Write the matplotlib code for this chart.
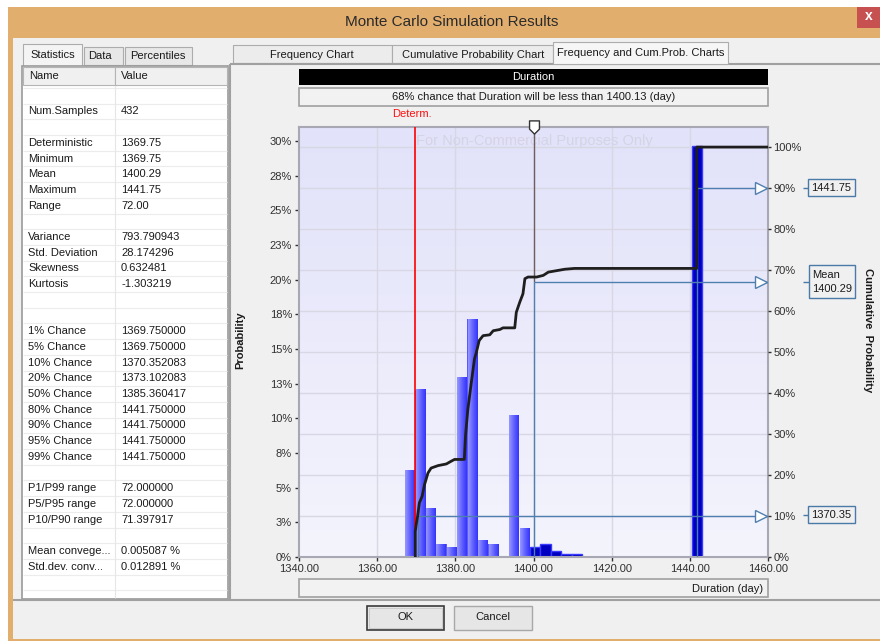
import matplotlib
matplotlib.use("Agg")
import matplotlib.pyplot as plt
import matplotlib.patches as mpatches
from matplotlib.path import Path
from matplotlib.colors import LinearSegmentedColormap
from matplotlib.transforms import blended_transform_factory
import numpy as np

plt.rcParams['font.family'] = ['Liberation Sans', 'DejaVu Sans']

# ---------------- data ----------------
bin_left = [1367.08, 1369.75, 1372.42, 1375.08, 1377.75, 1380.42, 1383.08, 1385.75, 1388.42,
            1393.75, 1396.42, 1399.08, 1401.75, 1404.42, 1407.08, 1409.75, 1440.50]
bin_pct = [6.25, 12.04, 3.47, 0.93, 0.69, 12.96, 17.13, 1.16, 0.93,
           10.19, 2.08, 0.69, 0.93, 0.46, 0.23, 0.23, 29.63]
bin_width = 2.667

cum_days = [1369.75, 1369.75, 1370.0, 1370.35, 1370.8, 1371.5, 1372.1, 1373.0, 1373.8, 1375.6,
            1377.7, 1379.0, 1379.8, 1382.3, 1382.6, 1383.2, 1384.1, 1384.9, 1385.4, 1386.1,
            1387.1, 1388.8, 1389.7, 1391.4, 1392.2, 1395.2, 1395.6, 1396.5, 1397.3, 1397.8,
            1398.6, 1400.8, 1402.5, 1403.8, 1405.0, 1408.0, 1410.5, 1441.75, 1441.75, 1460.0]
cum_pct = [0, 6.2, 8.0, 10.0, 13.2, 14.8, 17.6, 20.5, 21.7, 22.3,
           22.7, 23.4, 23.8, 23.8, 29.5, 36.0, 42.6, 48.3, 50.0, 52.8,
           54.0, 54.2, 55.2, 55.5, 55.9, 55.9, 59.7, 62.2, 64.2, 67.9,
           68.3, 68.3, 68.7, 69.5, 69.7, 70.2, 70.4, 70.4, 100.0, 100.0]

x_ticks = [1340, 1360, 1380, 1400, 1420, 1440, 1460]
x_ticklabels = ['1340.00', '1360.00', '1380.00', '1400.00', '1420.00', '1440.00', '1460.00']
prob_ticks = [0, 2.5, 5, 7.5, 10, 12.5, 15, 17.5, 20, 22.5, 25, 27.5, 30]
prob_ticklabels = ['0%', '3%', '5%', '8%', '10%', '13%', '15%', '18%', '20%', '23%', '25%', '28%', '30%']
cum_ticks = [0, 10, 20, 30, 40, 50, 60, 70, 80, 90, 100]
cum_ticklabels = ['0%', '10%', '20%', '30%', '40%', '50%', '60%', '70%', '80%', '90%', '100%']

determ = 1369.75
threshold = 1400.13
mean_val = 1400.29
mean_cum = 67.0
p10_val, p10_cum = 1370.35, 10
p90_val, p90_cum = 1441.75, 90

stat_names = ['', 'Num.Samples', '', 'Deterministic', 'Minimum', 'Mean', 'Maximum', 'Range', '',
              'Variance', 'Std. Deviation', 'Skewness', 'Kurtosis', '', '',
              '1% Chance', '5% Chance', '10% Chance', '20% Chance', '50% Chance', '80% Chance',
              '90% Chance', '95% Chance', '99% Chance', '',
              'P1/P99 range', 'P5/P95 range', 'P10/P90 range', '',
              'Mean convege...', 'Std.dev. conv...']
stat_values = ['', '432', '', '1369.75', '1369.75', '1400.29', '1441.75', '72.00', '',
               '793.790943', '28.174296', '0.632481', '-1.303219', '', '',
               '1369.750000', '1369.750000', '1370.352083', '1373.102083', '1385.360417', '1441.750000',
               '1441.750000', '1441.750000', '1441.750000', '',
               '72.000000', '72.000000', '71.397917', '',
               '0.005087 %', '0.012891 %']

# ---------------- figure / dialog ----------------
W, H = 880, 641
fig = plt.figure(figsize=(W / 100, H / 100), dpi=100)
fig.patch.set_facecolor('white')
bg = fig.add_axes([0, 0, 1, 1])
bg.set_xlim(0, W)
bg.set_ylim(H, 0)
bg.axis('off')

TXT = '#1a1a1a'


def rect(x0, y0, x1, y1, fc='none', ec='none', lw=1.0, z=1):
    bg.add_patch(mpatches.Rectangle((x0, y0), x1 - x0, y1 - y0, facecolor=fc,
                                    edgecolor=ec, linewidth=lw, zorder=z))


def txt(x, y, s, size=8, color=TXT, ha='left', va='center', z=3, **kw):
    bg.text(x, y, s, fontsize=size, color=color, ha=ha, va=va, zorder=z, **kw)


def hline(y, x0, x1, color, lw=1.0, z=2):
    bg.plot([x0, x1], [y, y], color=color, lw=lw, zorder=z, solid_capstyle='butt')


def vline(x, y0, y1, color, lw=1.0, z=2):
    bg.plot([x, x], [y0, y1], color=color, lw=lw, zorder=z, solid_capstyle='butt')


# window frame
rect(8, 7, 880, 641, fc='#e2ae6e')
rect(13, 38, 880, 639, fc='#f0f0f0')
rect(857, 7, 880, 28, fc='#c75050', z=2)
txt(868.5, 16.5, 'x', size=10, color='white', ha='center', fontweight='bold')
txt(452, 22, 'Monte Carlo Simulation Results', size=11, color='#2a2a2a', ha='center')

# left tabs
rect(84, 47, 123, 65, fc='#e8e8e8', ec='#acacac', lw=0.8)
rect(125, 47, 192, 65, fc='#e8e8e8', ec='#acacac', lw=0.8)
rect(23, 44, 82, 66, fc='#f4f4f4', ec='#acacac', lw=0.8)
txt(52.5, 54.5, 'Statistics', ha='center')
txt(100, 56, 'Data', ha='center')
txt(158, 56, 'Percentiles', ha='center')

# statistics table
rect(22, 66, 228, 599, fc='white', ec='#9a9a9a', lw=1.2)
rect(23, 67, 115, 85, fc='#f0f0f0', ec='#b4b4b4', lw=0.8, z=2)
rect(115, 67, 227, 85, fc='#f0f0f0', ec='#b4b4b4', lw=0.8, z=2)
txt(29, 76, 'Name')
txt(121, 76, 'Value')
for k in range(33):
    yb = 87.9 + 15.7 * k
    if yb < 598:
        hline(yb, 23, 227, '#ececec', lw=0.8, z=1.5)
vline(115, 85, 598, '#e6e6e6', lw=0.8, z=1.5)
for k, (nm, vl) in enumerate(zip(stat_names, stat_values)):
    yc = 95.7 + 15.7 * k
    if nm:
        txt(28, yc, nm)
    if vl:
        txt(121, yc, vl)

# chart panel + right tabs
rect(233, 45, 392, 63, fc='#ececec', ec='#acacac', lw=0.8)
rect(392, 45, 553, 63, fc='#ececec', ec='#acacac', lw=0.8)
hline(64, 230, 880, '#a0a0a0', lw=1.5)
vline(230, 64, 599, '#a0a0a0', lw=1.5)
rect(553, 42, 728, 64, fc='#f6f6f6', ec='#acacac', lw=0.8, z=3)
txt(312, 54.5, 'Frequency Chart', ha='center')
txt(473, 54.5, 'Cumulative Probability Chart', ha='center')
txt(640.5, 52.5, 'Frequency and Cum.Prob. Charts', ha='center', z=4)

# bottom separator & buttons
hline(599.5, 13, 880, '#a0a0a0', lw=1.5)
rect(367, 606, 444, 630, fc='#e6e6e6', ec='#3a3a3a', lw=1.2)
rect(369, 608, 442, 628, fc='none', ec='#c8c8c8', lw=0.6)
rect(454, 606, 532, 630, fc='#e6e6e6', ec='#a8a8a8', lw=1.0)
txt(405.5, 617.5, 'OK', ha='center')
txt(493, 617.5, 'Cancel', ha='center')

# chart header boxes
rect(299, 69, 768, 85, fc='black')
txt(533.5, 77, 'Duration', color='white', ha='center')
rect(299, 88, 768, 106, fc='#f2f2f2', ec='#a0a0a0', lw=1.2)
txt(533.5, 97.5, '68% chance that Duration will be less than 1400.13 (day)', ha='center')
rect(299, 579, 768, 597, fc='#f2f2f2', ec='#a0a0a0', lw=1.2)
txt(763, 588.5, 'Duration (day)', ha='right')
txt(412, 114, 'Determ.', color='#ff1010', ha='center')

# axis titles
txt(240, 340, 'Probability', ha='center', rotation=90, fontweight='bold')
txt(868, 330, 'Cumulative  Probability', ha='center', rotation=270, fontweight='bold')

# right-side percentile boxes
BOXC = '#4a7aa8'
rect(808, 179, 855, 196, fc='none', ec=BOXC, lw=1.0)
hline(187.5, 803, 808, BOXC)
txt(811, 188, '1441.75')
rect(809, 265, 855, 298, fc='none', ec=BOXC, lw=1.0)
hline(282, 803, 809, BOXC)
txt(812, 274.5, 'Mean')
txt(812, 289, '1400.29')
rect(808, 506, 855, 523, fc='none', ec=BOXC, lw=1.0)
hline(514.5, 803, 808, BOXC)
txt(811, 515, '1370.35')

# ---------------- chart ----------------
ax = fig.add_axes([299 / W, (H - 557) / H, 469 / W, 430 / H])
ax.patch.set_facecolor('none')
bg_cmap = LinearSegmentedColormap.from_list('bgc', ['#f4f4fd', '#e2e2fa'])
ax.imshow(np.linspace(0, 1, 100).reshape(-1, 1), cmap=bg_cmap, extent=[0, 1, 0, 1],
          transform=ax.transAxes, aspect='auto', origin='lower', zorder=0)

ax2 = ax.twinx()
ax.set_xlim(1340, 1460)
ax.set_ylim(0, 31.0)
ax2.set_ylim(0, 104.9)

grid_c = '#d8d8e4'
for xt in x_ticks[1:-1]:
    ax.axvline(xt, color=grid_c, lw=1.0, zorder=1)
gtrans = blended_transform_factory(ax.transAxes, ax2.transData)
ax.hlines(cum_ticks[1:], 0, 1, transform=gtrans, color=grid_c, lw=1.0, zorder=1)

# histogram bars
light_cmap = LinearSegmentedColormap.from_list('lb', ['#9898ff', '#6262ff', '#3434fa'])
grad = np.linspace(0, 1, 64).reshape(1, -1)
for x0, h in zip(bin_left, bin_pct):
    if x0 >= threshold - 1.5:
        ax.bar(x0, h, width=bin_width, align='edge', color='#0000c0',
               edgecolor='#3a3aff', linewidth=1.0, zorder=2)
    else:
        ax.bar(x0, h, width=bin_width, align='edge', color='#5a5aff',
               edgecolor='none', zorder=2)
        ax.imshow(grad, cmap=light_cmap, extent=[x0 + 0.1, x0 + bin_width - 0.1, 0, h],
                  aspect='auto', zorder=2.1, interpolation='bilinear')
ax.set_xlim(1340, 1460)
ax.set_ylim(0, 31.0)

ax.axvline(determ, color='#ff0000', lw=1.2, zorder=3)
ax.text(0.501, 0.967, 'For Non-Commercial Purposes Only', transform=ax.transAxes,
        fontsize=10.5, color='#d4d4e4', ha='center', va='center', zorder=1)

# cumulative curve & markers
LINEC = '#4f7fae'
ax2.vlines(threshold, mean_cum, 104.9, color='#6e5e5e', lw=1.0, zorder=2)
ax2.vlines(threshold, 0, mean_cum, color=LINEC, lw=1.0, zorder=2)
ax2.hlines(mean_cum, threshold, 1460, color=LINEC, lw=1.0, zorder=2)
ax2.vlines(p10_val, 0, p10_cum, color=LINEC, lw=1.0, zorder=2)
ax2.hlines(p10_cum, p10_val, 1460, color=LINEC, lw=1.0, zorder=2)
ax2.vlines(p90_val, 0, p90_cum, color=LINEC, lw=1.0, zorder=2)
ax2.hlines(p90_cum, p90_val, 1460, color=LINEC, lw=1.0, zorder=2)
ax2.plot(cum_days, cum_pct, color='#1e1e1e', lw=2.0, zorder=4, solid_joinstyle='round')

atrans = blended_transform_factory(ax2.transAxes, ax2.transData)
ax2.plot([0.986] * 3, [p90_cum, mean_cum, p10_cum], linestyle='none', marker='>',
         markersize=8, markerfacecolor='white', markeredgecolor=LINEC, markeredgewidth=1.0,
         transform=atrans, zorder=5, clip_on=False)

shield = Path([(-0.75, 1), (0.75, 1), (0.75, -0.25), (0, -1), (-0.75, -0.25), (-0.75, 1)],
              [Path.MOVETO, Path.LINETO, Path.LINETO, Path.LINETO, Path.LINETO, Path.CLOSEPOLY])
ax2.plot([threshold], [105.0], marker=shield, markersize=9.5, markerfacecolor='white',
         markeredgecolor='#333333', markeredgewidth=1.0, clip_on=False, zorder=6)
ax2.set_ylim(0, 104.9)

# ticks
TC = '#303030'
ax.set_xticks(x_ticks)
ax.set_xticklabels(x_ticklabels)
ax.set_yticks(prob_ticks)
ax.set_yticklabels(prob_ticklabels)
ax.tick_params(axis='both', labelsize=8, colors=TC, length=3, width=1, pad=2)
ax2.set_yticks(cum_ticks)
ax2.set_yticklabels(cum_ticklabels)
ax2.tick_params(axis='y', labelsize=8, colors=TC, length=2, width=1, pad=2)

for sp in ax.spines.values():
    sp.set_color('#a8a8b4')
    sp.set_linewidth(1.5)
for sp in ax2.spines.values():
    sp.set_visible(False)

fig.savefig('out.png', dpi=100, facecolor=fig.get_facecolor())
